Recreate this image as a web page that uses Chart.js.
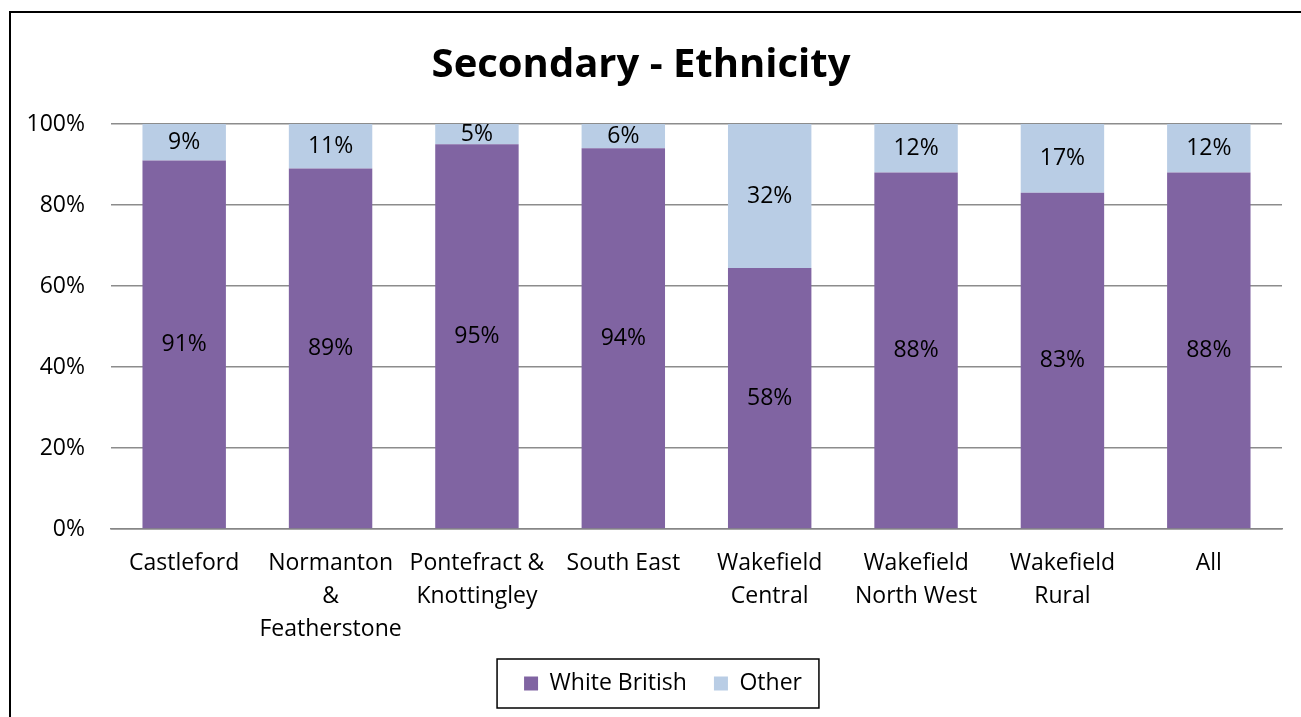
<!DOCTYPE html>
<html>
<head>
<meta charset="utf-8">
<script src="https://cdn.jsdelivr.net/npm/chart.js@4"></script>
<style>
  html, body { margin: 0; padding: 0; background: #fff; }
  #wrap { width: 1301px; height: 717px; position: relative; }
</style>
</head>
<body>
<div id="wrap"><canvas id="c" width="1301" height="717"></canvas></div>
<script>
const categories = ['Castleford', ['Normanton', '&', 'Featherstone'], ['Pontefract &', 'Knottingley'],
  'South East', ['Wakefield', 'Central'], ['Wakefield', 'North West'], ['Wakefield', 'Rural'], 'All'];
const whiteBritish = [91, 89, 95, 94, 58, 88, 83, 88];
const other = [9, 11, 5, 6, 32, 12, 17, 12];
const yTicks = [0, 20, 40, 60, 80, 100];

const FONT = '"Open Sans", Lato, sans-serif';

// 100% stacked: each bar scaled to its own total
const totals = whiteBritish.map((v, i) => v + other[i]);
const share = arr => arr.map((v, i) => v / totals[i] * 100);

const frame = {
  id: 'frame',
  afterLayout(chart) {
    // legend sits a little right of centre in the original
    const lg = chart.legend;
    lg.left += 22;
    lg.right += 22;
    (lg.legendHitBoxes || []).forEach(b => { b.left += 22; });
  },
  beforeDraw(chart) {
    const ctx = chart.ctx;
    ctx.save();
    ctx.fillStyle = '#fff';
    ctx.fillRect(0, 0, chart.width, chart.height);
    ctx.strokeStyle = '#000';
    ctx.lineWidth = 2;
    ctx.strokeRect(10, 12, chart.width + 20, chart.height + 20);
    ctx.restore();
  },
  afterDraw(chart) {
    // box round the legend
    const boxes = chart.legend.legendHitBoxes;
    if (!boxes || !boxes.length) return;
    const first = boxes[0], last = boxes[boxes.length - 1];
    const ctx = chart.ctx;
    ctx.save();
    ctx.strokeStyle = '#000';
    ctx.lineWidth = 1.5;
    ctx.strokeRect(first.left - 27, first.top - 13, last.left + last.width - first.left + 44, first.height + 26);
    ctx.restore();
  }
};

const barLabels = {
  id: 'barLabels',
  afterDatasetsDraw(chart) {
    const ctx = chart.ctx;
    ctx.save();
    ctx.font = '23px ' + FONT;
    ctx.fillStyle = '#000';
    ctx.textAlign = 'center';
    ctx.textBaseline = 'middle';
    chart.data.datasets.forEach((ds, di) => {
      chart.getDatasetMeta(di).data.forEach((bar, i) => {
        ctx.fillText(ds.raw[i] + '%', bar.x, (bar.y + bar.base) / 2);
      });
    });
    ctx.restore();
  }
};

new Chart(document.getElementById('c'), {
  type: 'bar',
  data: {
    labels: categories,
    datasets: [
      { label: 'White British', data: share(whiteBritish), raw: whiteBritish, backgroundColor: '#8064A2' },
      { label: 'Other', data: share(other), raw: other, backgroundColor: '#B9CDE5' }
    ]
  },
  options: {
    responsive: false,
    animation: false,
    layout: { padding: { left: 0, right: 19, top: 0, bottom: 12 } },
    datasets: { bar: { categoryPercentage: 1, barPercentage: 0.57 } },
    scales: {
      x: {
        stacked: true,
        grid: { display: false, drawTicks: false },
        border: { display: true, color: '#868686', width: 1.5 },
        ticks: { color: '#000', font: { family: FONT, size: 23, lineHeight: 1.435 }, padding: 18, maxRotation: 0, autoSkip: false },
        afterFit(scale) { scale.height = 116; }
      },
      y: {
        stacked: true,
        min: 0,
        max: 100,
        afterBuildTicks(scale) { scale.ticks = yTicks.map(v => ({ value: v })); },
        grid: { color: '#8c8c8c', lineWidth: 1.5, drawTicks: false },
        border: { display: false },
        ticks: { color: '#000', font: { family: FONT, size: 23 }, padding: 26, callback: v => v + '%' },
        afterFit(scale) { scale.width = 111; }
      }
    },
    plugins: {
      title: {
        display: true,
        text: 'Secondary - Ethnicity',
        color: '#000',
        font: { family: FONT, size: 40, weight: 'bold' },
        padding: { top: 42, bottom: 34 }
      },
      legend: {
        position: 'bottom',
        labels: { color: '#000', font: { family: FONT, size: 23 }, boxWidth: 14, boxHeight: 14, padding: 27 }
      },
      tooltip: { enabled: false }
    }
  },
  plugins: [frame, barLabels]
});
</script>
</body>
</html>
